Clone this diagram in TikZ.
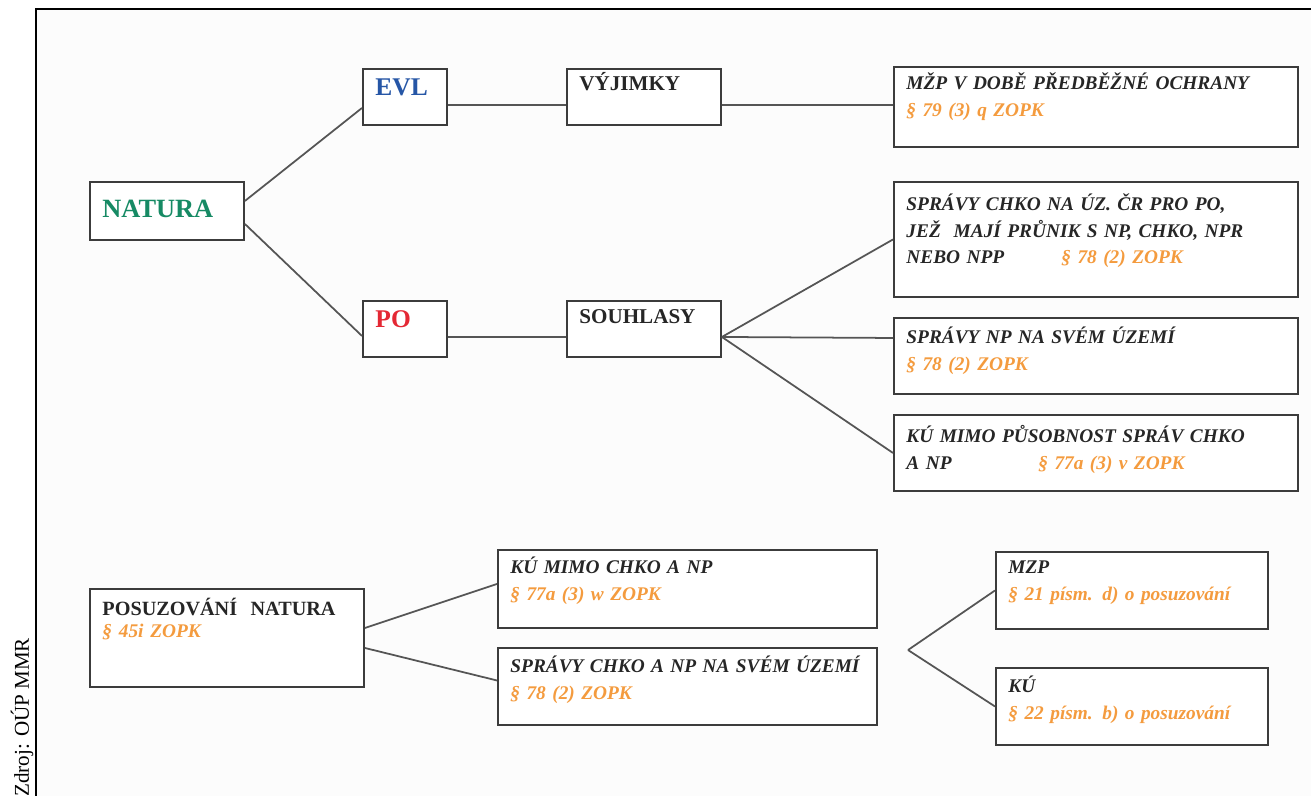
\documentclass[tikz,border=0pt]{standalone}
\usepackage{fontspec}
\setmainfont{Liberation Serif}
\usepackage{tikz}
\usetikzlibrary{positioning}

\definecolor{natgreen}{RGB}{22,138,100}
\definecolor{evlblue}{RGB}{38,86,166}
\definecolor{pored}{RGB}{228,40,52}
\definecolor{zopkorange}{RGB}{244,155,62}
\definecolor{boxline}{RGB}{60,60,60}
\definecolor{linkgray}{RGB}{85,85,85}

\newcommand{\zopk}[1]{{\color{zopkorange}#1}}

\begin{document}
\begin{tikzpicture}
	[x=0.02cm, y=-0.02cm,
	 cell/.style n args={3}{draw=boxline, line width=1.1pt, fill=white, anchor=north west,
	   inner xsep=0.25cm, inner ysep=0pt, align=left, text width=#1-0.5cm,
	   text height=#2, text depth=#3, text=black!85},
	 head/.style={font=\bfseries\fontsize{#1}{#1}\selectfont},
	 note/.style={font=\bfseries\itshape\fontsize{11}{15}\selectfont},
	 link/.style={draw=linkgray, line width=1pt}]
   \useasboundingbox (0,0) rectangle (1311,796);
   \fill[gray!2] (36,9) rectangle (1311,796);
   \draw[line width=0.9pt] (1311,9) -- (36,9) -- (36,796);
   \node[rotate=90, anchor=base west, inner sep=0pt, font=\fontsize{12}{12}\selectfont] (zdroj) at (29,797) {Zdroj: OÚP MMR};

   % natura tree
   \node[cell={3.08cm}{0.72cm}{0.44cm}, head=15, text=natgreen] (natura) at (89,181) {NATURA};
   \node[cell={1.68cm}{0.54cm}{0.58cm}, head=14.5, text=evlblue] (evl) at (362,68) {EVL};
   \node[cell={1.68cm}{0.54cm}{0.58cm}, head=14.5, text=pored] (po) at (362,300) {PO};
   \node[cell={3.08cm}{0.44cm}{0.68cm}, head=12] (vyjimky) at (566,68) {VÝJIMKY};
   \node[cell={3.08cm}{0.46cm}{0.66cm}, head=12] (souhlasy) at (566,300) {SOUHLASY};
   \node[cell={8.08cm}{0.46cm}{1.14cm}, note] (mzp) at (893,66)
      {MŽP V DOBĚ PŘEDBĚŽNÉ OCHRANY\\ \zopk{§ 79 (3) q ZOPK}};
   \node[cell={8.08cm}{0.58cm}{1.72cm}, note] (spravychko) at (893,181)
      {SPRÁVY CHKO NA ÚZ. ČR PRO PO,\\ JEŽ\ \ MAJÍ PRŮNIK S NP, CHKO, NPR\\
       \makebox[3.1cm][l]{NEBO NPP}\zopk{§ 78 (2) ZOPK}};
   \node[cell={8.08cm}{0.52cm}{1.0cm}, note] (spravynp) at (893,317)
      {SPRÁVY NP NA SVÉM ÚZEMÍ\\ \zopk{§ 78 (2) ZOPK}};
   \node[cell={8.08cm}{0.56cm}{0.96cm}, note] (kumimo) at (893,414)
      {KÚ MIMO PŮSOBNOST SPRÁV CHKO\\ \makebox[2.64cm][l]{A NP}\zopk{§ 77a (3) v ZOPK}};

   % posuzovani
   \node[cell={5.48cm}{0.54cm}{1.42cm}, head=11.5] (posuzovani) at (89,588)
      {POSUZOVÁNÍ\ \ NATURA\\[1pt] {\itshape\fontsize{11}{15}\selectfont\zopk{§ 45i ZOPK}}};
   \node[cell={7.58cm}{0.48cm}{1.08cm}, note] (kuchko) at (497,549)
      {KÚ MIMO CHKO A NP\\ \zopk{§ 77a (3) w ZOPK}};
   \node[cell={7.58cm}{0.5cm}{1.04cm}, note] (spravychkonp) at (497,647)
      {SPRÁVY CHKO A NP NA SVÉM ÚZEMÍ\\ \zopk{§ 78 (2) ZOPK}};
   \node[cell={5.44cm}{0.44cm}{1.1cm}, note] (mzpeia) at (995,551)
      {MZP\\ \zopk{§ 21 písm. d) o posuzování}};
   \node[cell={5.44cm}{0.5cm}{1.04cm}, note] (kueia) at (995,667)
      {KÚ\\ \zopk{§ 22 písm. b) o posuzování}};
   \coordinate (fork) at (908,650);

    \path[link]
    ([yshift=0.2cm]natura.east)
          edge ([yshift=-0.22cm]evl.west)
    ([yshift=-0.26cm]natura.east)
          edge ([yshift=-0.14cm]po.west)
    ([yshift=-0.16cm]evl.east)
          edge ([yshift=-0.16cm]vyjimky.west)
    ([yshift=-0.16cm]vyjimky.east)
          edge ([yshift=0.04cm]mzp.west)
    ([yshift=-0.16cm]po.east)
          edge ([yshift=-0.16cm]souhlasy.west)
    ([yshift=-0.16cm]souhlasy.east)
          edge (spravychko.west)
          edge ([yshift=0.36cm]spravynp.west)
          edge (kumimo.west)
    ([yshift=0.2cm]posuzovani.east)
          edge ([yshift=0.1cm]kuchko.west)
    ([yshift=-0.2cm]posuzovani.east)
          edge ([yshift=0.12cm]spravychkonp.west)
    (fork)
          edge (mzpeia.west)
          edge (kueia.west);

\end{tikzpicture}
\end{document}
